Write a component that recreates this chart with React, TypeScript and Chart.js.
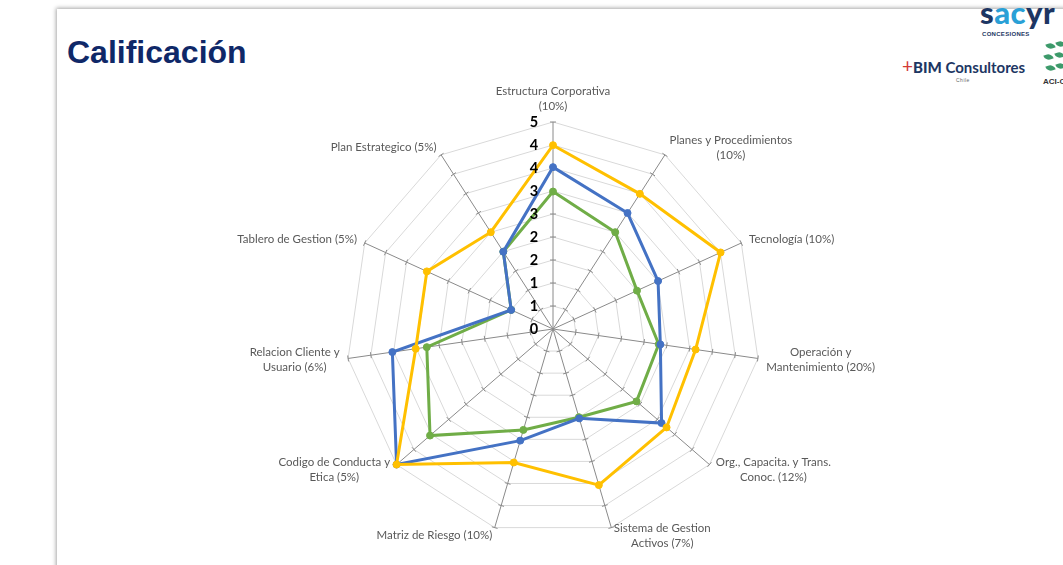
import React, { useEffect, useRef } from 'react';
import { Chart, registerables } from 'chart.js';

Chart.register(...registerables);

// ---------- data ----------
const categories: string[][] = [
  ['Estructura Corporativa', '(10%)'],
  ['Planes y Procedimientos', '(10%)'],
  ['Tecnología (10%)'],
  ['Operación y', 'Mantenimiento (20%)'],
  ['Org., Capacita. y Trans.', 'Conoc. (12%)'],
  ['Sistema de Gestion', 'Activos (7%)'],
  ['Matriz de Riesgo (10%)'],
  ['Codigo de Conducta y', 'Etica (5%)'],
  ['Relacion Cliente y', 'Usuario (6%)'],
  ['Tablero de Gestion (5%)'],
  ['Plan Estrategico (5%)'],
];
const yellowValues = [4.44, 3.88, 4.45, 3.48, 3.63, 3.93, 3.36, 5.0, 3.35, 3.35, 2.78];
const blueValues = [3.91, 3.33, 2.79, 2.62, 3.47, 2.25, 2.81, 5.0, 3.92, 1.11, 2.22];
const greenValues = [3.32, 2.78, 2.23, 2.58, 2.67, 2.22, 2.54, 3.93, 3.08, 1.11, 2.22];
const tickLabels = ['0', '1', '1', '2', '2', '3', '3', '4', '4', '5'];
const scaleMin = 0;
const scaleMax = 5;

// ---------- styles ----------
const YELLOW = '#FFC000';
const BLUE = '#4472C4';
const GREEN = '#70AD47';
const LABEL_FONT = 'Lato';

const radarDecor = {
  id: 'radarDecor',
  beforeDatasetsDraw(chart: any) {
    const r = chart.scales.r;
    const ctx = chart.ctx;
    const n = chart.data.labels.length;
    ctx.save();
    ctx.strokeStyle = '#8c8c8c';
    ctx.lineWidth = 1;
    for (let i = 0; i < n; i++) {
      const a = r.getIndexAngle(i) - Math.PI / 2;
      const px = -Math.sin(a);
      const py = Math.cos(a);
      r.ticks.forEach((t: any, k: number) => {
        if (k === 0) return;
        const d = r.getDistanceFromCenterForValue(t.value);
        const p = r.getPointPosition(i, d);
        ctx.beginPath();
        ctx.moveTo(p.x - px * 3, p.y - py * 3);
        ctx.lineTo(p.x + px * 3, p.y + py * 3);
        ctx.stroke();
      });
    }
    ctx.restore();
  },
  afterDatasetsDraw(chart: any) {
    const r = chart.scales.r;
    const ctx = chart.ctx;
    ctx.save();
    ctx.fillStyle = '#000000';
    ctx.font = `bold 14.5px ${LABEL_FONT}`;
    ctx.textAlign = 'center';
    ctx.textBaseline = 'middle';
    r.ticks.forEach((t: any) => {
      const d = r.getDistanceFromCenterForValue(t.value);
      ctx.fillText(String(t.label), r.xCenter - 19, r.yCenter - d);
    });
    ctx.restore();

    // point labels (Excel-like placement)
    ctx.save();
    ctx.fillStyle = '#595959';
    ctx.font = `11.5px ${LABEL_FONT}`;
    ctx.textBaseline = 'middle';
    ctx.textAlign = 'center';
    const lh = 15;
    const labels = chart.data.labels as string[][];
    labels.forEach((lines, i) => {
      const theta = r.getIndexAngle(i);
      const s = Math.sin(theta);
      const c = Math.cos(theta);
      const p = r.getPointPosition(i, r.drawingArea + 8.5);
      const h = lines.length * lh;
      const w = Math.max(...lines.map((l) => ctx.measureText(l).width));
      let left: number;
      let top: number;
      if (Math.abs(s) < 0.01) {
        left = p.x - w / 2;
        top = c > 0 ? p.y - h : p.y;
      } else {
        left = s > 0 ? p.x : p.x - w;
        top = p.y - h / 2;
      }
      lines.forEach((l, k) => {
        ctx.fillText(l, left + w / 2, top + lh * k + lh / 2);
      });
    });
    ctx.restore();
  },
};

function RadarChart() {
  const ref = useRef<HTMLCanvasElement>(null);
  useEffect(() => {
    if (!ref.current) return;
    const mk = (label: string, data: number[], color: string) => ({
      label,
      data,
      borderColor: color,
      backgroundColor: color,
      pointBackgroundColor: color,
      pointBorderColor: color,
      borderWidth: 3,
      pointRadius: 3.5,
      pointBorderWidth: 1,
      fill: false,
      tension: 0,
    });
    const chart = new Chart(ref.current, {
      type: 'radar',
      data: {
        labels: categories,
        datasets: [
          mk('Serie 1', yellowValues, YELLOW),
          mk('Serie 2', blueValues, BLUE),
          mk('Serie 3', greenValues, GREEN),
        ],
      },
      options: {
        responsive: false,
        animation: false,
        layout: { padding: { left: 346, right: 303, top: 122, bottom: 29 } },
        plugins: { legend: { display: false }, tooltip: { enabled: false } },
        scales: {
          r: {
            min: scaleMin,
            max: scaleMax,
            startAngle: 0,
            afterBuildTicks: (s: any) => {
              s.ticks = tickLabels.map((_, i) => ({
                value: scaleMin + (i * (scaleMax - scaleMin)) / (tickLabels.length - 1),
              }));
            },
            ticks: {
              display: false,
              callback: (_v: any, i: number) => tickLabels[i],
            },
            grid: { color: '#d9d9d9', lineWidth: 1 },
            angleLines: { color: '#8a8a8a', lineWidth: 1 },
            pointLabels: { display: false },
          },
        },
      } as any,
      plugins: [radarDecor],
    });
    return () => chart.destroy();
  }, []);
  return (
    <canvas
      ref={ref}
      width={1063}
      height={565}
      style={{ position: 'absolute', left: 0, top: 0, display: 'block' }}
    />
  );
}

const NAVY = '#1d3663';

export default function App() {
  const leaf = (x: number, y: number, rot: number) => (
    <div
      key={`${x}-${y}`}
      style={{
        position: 'absolute',
        left: x,
        top: y,
        width: 9,
        height: 6,
        background: '#3d9a6b',
        borderRadius: '0 7px 0 7px',
        transform: `rotate(${rot}deg)`,
      }}
    />
  );
  return (
    <div
      style={{
        position: 'absolute',
        left: 0,
        top: 0,
        width: 1063,
        height: 565,
        overflow: 'hidden',
        background: '#ffffff',
      }}
    >
      <div
        style={{
          position: 'absolute',
          left: 57,
          top: 9,
          width: 1100,
          height: 620,
          background: '#ffffff',
          boxShadow: '-1px -1px 4px rgba(0,0,0,0.35)',
        }}
      />
      <div
        style={{
          position: 'absolute',
          left: 67,
          top: 36,
          font: 'bold 32px "Liberation Sans", Arial, sans-serif',
          lineHeight: '32px',
          color: '#0f2868',
          whiteSpace: 'nowrap',
        }}
      >
        Calificación
      </div>
      {/* logos */}
      <div
        style={{
          position: 'absolute',
          left: 980,
          top: -3,
          font: '900 31px Lato, sans-serif',
          lineHeight: '31px',
          letterSpacing: '0.5px',
          whiteSpace: 'nowrap',
        }}
      >
        <span style={{ color: NAVY }}>s</span>
        <span style={{ color: '#2aa0d6' }}>ac</span>
        <span style={{ color: NAVY }}>yr</span>
      </div>
      <div
        style={{
          position: 'absolute',
          left: 982,
          top: 31,
          font: 'bold 6px "Liberation Sans", sans-serif',
          lineHeight: '6px',
          color: NAVY,
          letterSpacing: '0.3px',
          whiteSpace: 'nowrap',
        }}
      >
        CONCESIONES
      </div>
      <div
        style={{
          position: 'absolute',
          left: 902,
          top: 57,
          font: '700 15px Lato, sans-serif',
          lineHeight: '18px',
          color: NAVY,
          whiteSpace: 'nowrap',
        }}
      >
        <span style={{ color: '#d23a35', fontWeight: 400, fontSize: 19 }}>+</span>
        <span style={{ fontWeight: 900 }}>BIM</span> Consultores
      </div>
      <div
        style={{
          position: 'absolute',
          left: 956,
          top: 77,
          font: '5px "Liberation Sans", sans-serif',
          color: '#666',
          letterSpacing: '0.5px',
          whiteSpace: 'nowrap',
        }}
      >
        Chile
      </div>
      {leaf(1046, 43, -20)}
      {leaf(1056, 41, -20)}
      {leaf(1044, 54, -20)}
      {leaf(1055, 52, -20)}
      {leaf(1046, 65, -20)}
      {leaf(1056, 63, -20)}
      <div
        style={{
          position: 'absolute',
          left: 1043,
          top: 77,
          font: 'bold 8px "Liberation Sans Narrow", "Liberation Sans", sans-serif',
          color: '#333',
          whiteSpace: 'nowrap',
        }}
      >
        ACI-CONS
      </div>
      <RadarChart />
    </div>
  );
}
